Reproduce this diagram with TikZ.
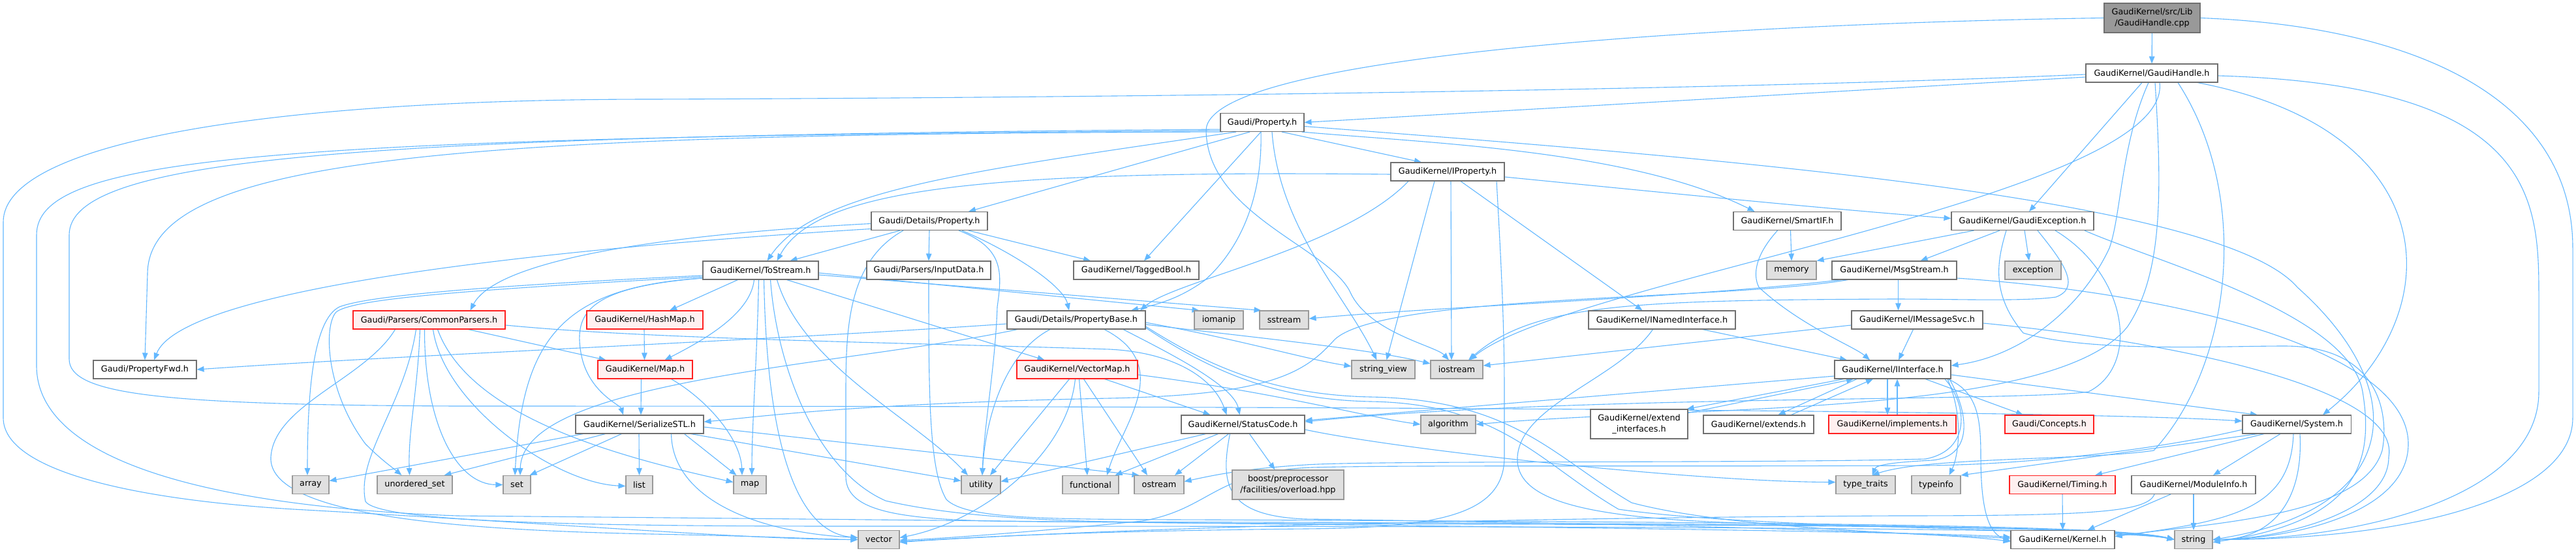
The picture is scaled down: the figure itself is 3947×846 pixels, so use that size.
\documentclass[tikz,border=0pt]{standalone}
\usepackage{fontspec}
\setmainfont{DejaVu Sans}
\usetikzlibrary{arrows.meta}
\pgfdeclarelayer{background}
\pgfsetlayers{background,main}
\definecolor{edgec}{HTML}{63B8FF}
\definecolor{nodeb}{HTML}{707070}
\definecolor{grayb}{HTML}{999999}
\definecolor{grayf}{HTML}{E0E0E0}
\definecolor{mainf}{HTML}{999999}
\definecolor{redb}{HTML}{FF2020}
\definecolor{redf}{HTML}{FFF0F0}
\begin{document}
\begin{tikzpicture}[x=1pt,y=1pt,
  base/.style={rectangle, line width=1.1pt, inner sep=1pt, minimum height=28pt, font=\fontsize{12.8}{16.5}\selectfont, align=center},
  wbox/.style={base, draw=nodeb, fill=white},
  gbox/.style={base, draw=grayb, fill=grayf},
  rbox/.style={base, draw=redb, fill=redf},
  mbox/.style={base, draw=nodeb, fill=mainf},
  e/.style={draw=edgec, line width=1.1pt, -{Triangle[length=11pt,width=8.5pt]}}]
\useasboundingbox (0,0) rectangle (3947,-846);
% ---------------- nodes ----------------
\node[mbox, minimum width=147pt, minimum height=45pt] (cpp) at (3297.5,-27.5) {GaudiKernel/src/Lib\\/GaudiHandle.cpp};
\node[wbox, minimum width=202pt] (gh) at (3297,-112) {GaudiKernel/GaudiHandle.h};
\node[wbox, minimum width=128pt] (prop) at (1934,-187.5) {Gaudi/Property.h};
\node[wbox, minimum width=174pt] (iprop) at (2218,-263) {GaudiKernel/IProperty.h};
\node[wbox, minimum width=178pt] (dprop) at (1424,-338.5) {Gaudi/Details/Property.h};
\node[wbox, minimum width=165pt] (smartif) at (2738.5,-338.5) {GaudiKernel/SmartIF.h};
\node[wbox, minimum width=218pt] (gexc) at (3099,-338.5) {GaudiKernel/GaudiException.h};
\node[wbox, minimum width=177pt] (tostream) at (1165.5,-414) {GaudiKernel/ToStream.h};
\node[wbox, minimum width=190pt] (inputdata) at (1423,-414) {Gaudi/Parsers/InputData.h};
\node[wbox, minimum width=192pt] (tagged) at (1741,-414) {GaudiKernel/TaggedBool.h};
\node[gbox, minimum width=76pt] (memory) at (2745,-414) {memory};
\node[wbox, minimum width=191pt] (msgstream) at (2902.5,-414) {GaudiKernel/MsgStream.h};
\node[gbox, minimum width=86pt] (exception) at (3115,-414) {exception};
\node[rbox, minimum width=233pt] (commonp) at (657.5,-490) {Gaudi/Parsers/CommonParsers.h};
\node[rbox, minimum width=178pt] (hashmap) at (988,-490) {GaudiKernel/HashMap.h};
\node[wbox, minimum width=212pt] (pbase) at (1649,-490) {Gaudi/Details/PropertyBase.h};
\node[gbox, minimum width=75pt] (iomanip) at (1867.5,-490) {iomanip};
\node[gbox, minimum width=75pt] (sstream) at (1967.5,-490) {sstream};
\node[wbox, minimum width=225pt] (inamed) at (2546.5,-490) {GaudiKernel/INamedInterface.h};
\node[wbox, minimum width=201pt] (imsg) at (2937.5,-490) {GaudiKernel/IMessageSvc.h};
\node[wbox, minimum width=158pt] (pfwd) at (222,-566) {Gaudi/PropertyFwd.h};
\node[rbox, minimum width=145pt] (maph) at (988.5,-566) {GaudiKernel/Map.h};
\node[rbox, minimum width=185pt] (vmap) at (1650.5,-566) {GaudiKernel/VectorMap.h};
\node[gbox, minimum width=97pt] (strview) at (2119.5,-566) {string\_view};
\node[gbox, minimum width=80pt] (iostream) at (2232,-566) {iostream};
\node[wbox, minimum width=178pt] (iinterface) at (2900,-566) {GaudiKernel/IInterface.h};
\node[wbox, minimum width=196pt] (sstl) at (980,-650) {GaudiKernel/SerializeSTL.h};
\node[wbox, minimum width=189pt] (statuscode) at (1904.5,-650) {GaudiKernel/StatusCode.h};
\node[gbox, minimum width=84pt] (algorithm) at (2219,-650) {algorithm};
\node[wbox, minimum width=149pt, minimum height=45pt] (extif) at (2511.5,-649.5) {GaudiKernel/extend\\\_interfaces.h};
\node[wbox, minimum width=169pt] (extends) at (2694.5,-650) {GaudiKernel/extends.h};
\node[rbox, minimum width=195pt] (implements) at (2899.5,-650) {GaudiKernel/implements.h};
\node[rbox, minimum width=136pt] (concepts) at (3140,-650) {Gaudi/Concepts.h};
\node[wbox, minimum width=166pt] (system) at (3519,-650) {GaudiKernel/System.h};
\node[gbox, minimum width=56pt] (array) at (476,-742.5) {array};
\node[gbox, minimum width=115pt] (uset) at (635.5,-742.5) {unordered\_set};
\node[gbox, minimum width=42pt] (set) at (792,-742.5) {set};
\node[gbox, minimum width=41pt] (list) at (979.5,-742.5) {list};
\node[gbox, minimum width=50pt] (map) at (1149,-742.5) {map};
\node[gbox, minimum width=60pt] (utility) at (1503,-742.5) {utility};
\node[gbox, minimum width=86pt] (functional) at (1671,-742.5) {functional};
\node[gbox, minimum width=76pt] (ostream) at (1776,-742.5) {ostream};
\node[gbox, minimum width=171pt, minimum height=45pt] (boost) at (1973.5,-742.5) {boost/preprocessor\\/facilities/overload.hpp};
\node[gbox, minimum width=91pt] (typetraits) at (2858.5,-742.5) {type\_traits};
\node[gbox, minimum width=75pt] (typeinfo) at (2966.5,-742.5) {typeinfo};
\node[rbox, minimum width=162pt] (timing) at (3160,-742.5) {GaudiKernel/Timing.h};
\node[wbox, minimum width=190pt] (modinfo) at (3361,-742.5) {GaudiKernel/ModuleInfo.h};
\node[gbox, minimum width=63pt] (vector) at (1346.5,-826.5) {vector};
\node[wbox, minimum width=159pt] (kernel) at (3160.5,-826.5) {GaudiKernel/Kernel.h};
\node[gbox, minimum width=58pt] (string) at (3361,-826.5) {string};
% ---------------- edges ----------------
\begin{pgfonlayer}{background}
\fill[white] (0,0) rectangle (3947,-846);
% GaudiHandle.cpp
\draw[e] (cpp) -- (gh);
\draw[e] (cpp.east) .. controls (3700,-40) and (3942,-150) .. (3942,-380) -- (3942,-640) .. controls (3942,-760) and (3700,-826) .. (string.east);
\draw[e] (cpp.west) .. controls (2700,-35) and (1848,-80) .. (1848,-200) .. controls (1850,-330) and (2040,-380) .. (2070,-450) .. controls (2100,-510) and (2200,-530) .. ([xshift=-12pt]iostream.north);
% GaudiHandle.h
\draw[e] ([yshift=-6pt]gh.west) -- (prop.east);
\draw[e] ([yshift=-2pt]gh.west) .. controls (2600,-140) and (1600,-150) .. (1000,-152) .. controls (400,-152) and (5,-220) .. (5,-340) -- (5,-640) .. controls (5,-720) and (200,-765) .. (450,-780) .. controls (900,-805) and (1150,-826) .. (vector.west);
\draw[e] ([xshift=-15pt]gh.south) -- ([xshift=10pt]gexc.north);
\draw[e] ([xshift=-5pt]gh.south) .. controls (3250,-220) and (3250,-330) .. (3232,-380) .. controls (3190,-470) and (3100,-545) .. ([yshift=6pt]iinterface.east);
\draw[e] ([xshift=5pt]gh.south) .. controls (3313,-300) and (3313,-420) .. (3260,-500) .. controls (3150,-640) and (2600,-620) .. (algorithm.east);
\draw[e] ([xshift=12pt]gh.south) .. controls (3330,-300) and (2400,-430) .. ([xshift=20pt]iostream.north);
\draw[e] ([xshift=40pt]gh.south) .. controls (3450,-300) and (3420,-560) .. (3300,-690) .. controls (3200,-705) and (2950,-700) .. ([xshift=10pt]typetraits.north);
\draw[e] ([xshift=70pt]gh.south) .. controls (3750,-200) and (3753,-480) .. ([xshift=40pt]system.north);
\draw[e] ([yshift=-4pt]gh.east) .. controls (3880,-130) and (3890,-300) .. (3890,-450) -- (3890,-600) .. controls (3890,-760) and (3620,-826) .. (string.east);
% Gaudi/Property.h
\draw[e] ([xshift=4pt]prop.south west) .. controls (700,-205) and (226,-240) .. (226,-420) -- (pfwd.north);
\draw[e] ([xshift=2pt,yshift=2pt]prop.south west) .. controls (400,-210) and (56,-240) .. (56,-360) -- (56,-560) .. controls (56,-700) and (300,-775) .. (700,-790) .. controls (1800,-800) and (2900,-812) .. ([yshift=4pt]kernel.west);
\draw[e] ([xshift=3pt,yshift=4pt]prop.south west) .. controls (550,-208) and (106,-240) .. (106,-360) -- (106,-550) .. controls (106,-605) and (250,-620) .. (700,-622) .. controls (2200,-622) and (3200,-630) .. ([yshift=5pt]system.west);
\draw[e] ([xshift=-19pt]prop.south) -- ([xshift=60pt]dprop.north);
\draw[e] ([xshift=-40pt]prop.south) .. controls (1500,-260) and (1250,-290) .. ([xshift=10pt]tostream.north);
\draw[e] ([xshift=-2pt]prop.south) -- ([xshift=12pt]tagged.north);
\draw[e] ([xshift=-2pt]prop.south) .. controls (1935,-330) and (1880,-400) .. (1845,-430) .. controls (1810,-455) and (1780,-465) .. ([xshift=84pt]pbase.north);
\draw[e] ([xshift=30pt]prop.south) -- ([xshift=-40pt]iprop.north);
\draw[e] ([xshift=-4pt]prop.south east) .. controls (2200,-220) and (2500,-230) .. ([xshift=-50pt]smartif.north);
\draw[e] ([xshift=15pt]prop.south) .. controls (1960,-350) and (2060,-450) .. ([xshift=-10pt]strview.north);
\draw[e] ([yshift=-6pt]prop.east) .. controls (2600,-240) and (3400,-300) .. (3520,-440) .. controls (3700,-600) and (3680,-780) .. (string.east);
% IProperty.h
\draw[e] ([yshift=-4pt]iprop.west) .. controls (1500,-260) and (1250,-290) .. ([xshift=25pt]tostream.north);
\draw[e] ([yshift=-8pt]iprop.east) .. controls (2600,-300) and (2800,-320) .. ([yshift=4pt]gexc.west);
\draw[e] ([xshift=20pt]iprop.south) -- ([xshift=-30pt]inamed.north);
\draw[e] ([xshift=-20pt]iprop.south) -- ([xshift=5pt]strview.north);
\draw[e] ([xshift=5pt]iprop.south) -- ([xshift=-8pt]iostream.north);
\draw[e] ([xshift=-60pt]iprop.south) .. controls (2060,-380) and (1800,-430) .. ([xshift=98pt]pbase.north);
\draw[e] ([xshift=75pt]iprop.south) .. controls (2300,-400) and (2305,-500) .. (2305,-600) -- (2305,-700) .. controls (2305,-790) and (2200,-808) .. (2000,-810) .. controls (1600,-814) and (1450,-826) .. ([yshift=-3pt]vector.east);
% SmartIF.h
\draw[e] ([xshift=5pt]smartif.south) -- (memory.north);
\draw[e] ([xshift=-15pt]smartif.south) .. controls (2690,-390) and (2685,-420) .. (2695,-440) .. controls (2760,-500) and (2840,-530) .. ([xshift=-35pt]iinterface.north);
% Gaudi/Details/Property.h
\draw[e] ([yshift=-4pt]dprop.west) .. controls (1000,-360) and (760,-400) .. ([xshift=63pt]commonp.north);
\draw[e] ([yshift=-12pt]dprop.west) .. controls (850,-380) and (280,-440) .. ([xshift=14pt]pfwd.north);
\draw[e] ([xshift=-45pt]dprop.south) -- ([xshift=45pt]tostream.north);
\draw[e] (dprop.south) -- (inputdata.north);
\draw[e] ([xshift=60pt]dprop.south) -- ([xshift=-70pt]tagged.north);
\draw[e] ([xshift=50pt]dprop.south) .. controls (1560,-390) and (1630,-440) .. ([xshift=-11pt]pbase.north);
\draw[e] ([xshift=45pt]dprop.south) .. controls (1540,-380) and (1535,-420) .. (1528,-470) .. controls (1525,-560) and (1508,-650) .. ([xshift=2pt]utility.north);
\draw[e] ([xshift=-40pt]dprop.south) .. controls (1300,-400) and (1296,-500) .. (1296,-600) -- (1296,-730) .. controls (1296,-790) and (1400,-798) .. (1600,-799) .. controls (2800,-802) and (3250,-806) .. (string.west);
% InputData.h
\draw[e] (inputdata.south) .. controls (1423,-600) and (1423,-720) .. (1450,-765) .. controls (1480,-795) and (1600,-795) .. (1800,-796) .. controls (2800,-800) and (3250,-805) .. (string.west);
% ToStream.h
\draw[e] ([xshift=-35pt]tostream.south) -- ([xshift=38pt]hashmap.north);
\draw[e] ([xshift=-10pt]tostream.south) .. controls (1150,-480) and (1080,-520) .. ([xshift=30pt]maph.north);
\draw[e] ([xshift=-3pt]tostream.south) .. controls (1160,-550) and (1152,-650) .. ([xshift=3pt]map.north);
\draw[e] ([xshift=40pt]tostream.south) -- ([xshift=-50pt]vmap.north);
\draw[e] ([yshift=-12pt]tostream.west) .. controls (900,-440) and (880,-480) .. (890,-540) .. controls (900,-600) and (950,-620) .. ([xshift=-25pt]sstl.north);
\draw[e] ([yshift=-8pt]tostream.west) .. controls (700,-440) and (560,-455) .. (520,-470) .. controls (480,-490) and (471,-600) .. ([xshift=-5pt]array.north);
\draw[e] ([yshift=-10pt]tostream.west) .. controls (700,-445) and (540,-458) .. (515,-478) .. controls (495,-500) and (500,-600) .. (560,-680) .. controls (585,-705) and (600,-715) .. ([xshift=-20pt]uset.north);
\draw[e] ([yshift=-12pt]tostream.west) .. controls (860,-440) and (800,-520) .. ([xshift=-3pt]set.north);
\draw[e] ([xshift=25pt]tostream.south) .. controls (1230,-560) and (1400,-640) .. ([xshift=-20pt]utility.north);
\draw[e] ([xshift=15pt]tostream.south) .. controls (1190,-560) and (1250,-720) .. (1357,-767) .. controls (1500,-800) and (1700,-801) .. (2000,-802) .. controls (2800,-804) and (3250,-807) .. (string.west);
\draw[e] ([xshift=5pt]tostream.south) .. controls (1175,-680) and (1220,-815) .. ([yshift=3pt]vector.west);
\draw[e] ([yshift=-4pt]tostream.east) -- ([xshift=-30pt]iomanip.north);
\draw[e] ([yshift=-7pt]tostream.east) -- ([xshift=-35pt]sstream.north);
% CommonParsers.h
\draw[e] ([xshift=60pt]commonp.south) -- ([xshift=-60pt]maph.north);
\draw[e] ([xshift=6pt]commonp.south) .. controls (680,-620) and (850,-740) .. ([yshift=-2pt]list.west);
\draw[e] ([xshift=-7pt]commonp.south) .. controls (650,-650) and (700,-742) .. (set.west);
\draw[e] ([xshift=-14pt]commonp.south) .. controls (640,-600) and (625,-660) .. ([xshift=-8pt]uset.north);
\draw[e] ([xshift=13pt]commonp.south) .. controls (720,-640) and (950,-700) .. ([yshift=4pt]map.west);
\draw[e] ([xshift=-52pt]commonp.south) .. controls (560,-580) and (420,-620) .. (415,-700) .. controls (410,-790) and (700,-812) .. (1000,-818) .. controls (1200,-822) and (1260,-826) .. (vector.west);
\draw[e] ([xshift=-20pt]commonp.south) .. controls (620,-620) and (545,-700) .. (560,-768) .. controls (580,-800) and (900,-806) .. (1300,-806) .. controls (2500,-806) and (3250,-808) .. (string.west);
\draw[e] ([yshift=-8pt]commonp.east) .. controls (1000,-520) and (1400,-525) .. (1700,-535) .. controls (1800,-540) and (1860,-580) .. ([xshift=-25pt]statuscode.north);
% HashMap.h, Map.h
\draw[e] ([xshift=-1pt]hashmap.south) -- ([xshift=-1pt]maph.north);
\draw[e] ([xshift=40pt]maph.south) .. controls (1080,-610) and (1135,-670) .. ([xshift=-12pt]map.north);
\draw[e] ([xshift=-6pt]maph.south) -- ([xshift=2pt]sstl.north);
% SerializeSTL.h
\draw[e] ([xshift=12pt]sstl.south west) -- ([yshift=6pt]array.east);
\draw[e] ([xshift=46pt]sstl.south west) -- ([xshift=45pt]uset.north);
\draw[e] ([xshift=71pt]sstl.south west) -- ([xshift=-2pt]set.north east);
\draw[e] ([xshift=-1pt]sstl.south) -- (list.north);
\draw[e] ([xshift=-30pt]sstl.south east) -- ([xshift=5pt]map.north west);
\draw[e] ([xshift=-50pt]sstl.south east) .. controls (1030,-760) and (1150,-815) .. ([yshift=3pt]vector.west);
\draw[e] ([xshift=-20pt]sstl.south east) -- ([yshift=6pt]utility.west);
\draw[e] ([yshift=-4pt]sstl.east) -- ([xshift=8pt]ostream.north west);
% VectorMap.h
\draw[e] ([xshift=-12pt]vmap.south) -- ([xshift=14pt]utility.north);
\draw[e] ([xshift=-3pt]vmap.south) .. controls (1635,-700) and (1500,-800) .. ([yshift=3pt]vector.east);
\draw[e] ([xshift=3pt]vmap.south) -- ([xshift=-5pt]functional.north);
\draw[e] ([xshift=10pt]vmap.south) -- ([xshift=-18pt]ostream.north);
\draw[e] ([xshift=42pt]vmap.south) -- ([xshift=-50pt]statuscode.north);
\draw[e] ([yshift=-8pt]vmap.east) .. controls (1950,-600) and (2100,-640) .. (algorithm.west);
% PropertyBase.h
\draw[e] ([yshift=-6pt]pbase.west) .. controls (1200,-520) and (600,-545) .. (pfwd.east);
\draw[e] ([xshift=-90pt]pbase.south) .. controls (1300,-560) and (800,-580) .. ([xshift=5pt]set.north);
\draw[e] ([xshift=-40pt]pbase.south) .. controls (1540,-540) and (1510,-640) .. ([xshift=2pt]utility.north);
\draw[e] ([xshift=43pt]pbase.south) .. controls (1800,-560) and (1720,-650) .. ([xshift=25pt]functional.north);
\draw[e] ([xshift=72pt]pbase.south) .. controls (1790,-540) and (1890,-590) .. ([xshift=-5pt]statuscode.north);
\draw[e] ([yshift=-4pt]pbase.east) .. controls (1900,-520) and (2000,-550) .. ([yshift=5pt]strview.west);
\draw[e] ([yshift=-7pt]pbase.east) .. controls (1950,-520) and (2100,-535) .. ([yshift=9pt]iostream.west);
\draw[e] ([yshift=-10pt]pbase.east) .. controls (1850,-560) and (1950,-605) .. (2100,-608) .. controls (2320,-612) and (2380,-700) .. (2500,-770) .. controls (2650,-810) and (2950,-818) .. ([yshift=2pt]kernel.west);
\draw[e] ([yshift=-12pt]pbase.east) .. controls (1850,-565) and (1950,-612) .. (2100,-615) .. controls (2300,-618) and (2360,-710) .. (2480,-780) .. controls (2700,-812) and (3250,-810) .. (string.west);
% StatusCode.h
\draw[e] ([xshift=-57pt]statuscode.south) -- ([yshift=5pt]utility.east);
\draw[e] ([xshift=-38pt]statuscode.south) -- ([xshift=-6pt]functional.north east);
\draw[e] ([xshift=-22pt]statuscode.south) -- ([xshift=24pt]ostream.north);
\draw[e] ([xshift=10pt]statuscode.south) -- ([xshift=-20pt]boost.north);
\draw[e] ([xshift=-20pt]statuscode.south) .. controls (1870,-740) and (1875,-790) .. (2000,-795) .. controls (2700,-805) and (3000,-818) .. ([yshift=-3pt]kernel.west);
\draw[e] ([yshift=-8pt]statuscode.east) .. controls (2150,-690) and (2600,-738) .. ([yshift=4pt]typetraits.west);
% INamedInterface.h
\draw[e] ([xshift=62pt]inamed.south) -- ([xshift=-70pt]iinterface.north);
\draw[e] ([xshift=-14pt]inamed.south) .. controls (2480,-580) and (2330,-620) .. (2325,-700) .. controls (2320,-785) and (2500,-800) .. (2800,-804) .. controls (3050,-808) and (3260,-812) .. (string.west);
% IMessageSvc.h
\draw[e] ([xshift=-6pt]imsg.south) -- ([xshift=9pt]iinterface.north);
\draw[e] ([yshift=-8pt]imsg.west) -- ([yshift=6pt]iostream.east);
\draw[e] ([yshift=-5pt]imsg.east) .. controls (3300,-520) and (3680,-590) .. (3660,-700) .. controls (3660,-790) and (3480,-826) .. (string.east);
% MsgStream.h
\draw[e] ([xshift=6pt]msgstream.south) -- ([xshift=-29pt]imsg.north);
\draw[e] ([xshift=15pt]msgstream.south west) .. controls (2600,-455) and (2200,-470) .. ([yshift=2pt]sstream.east);
\draw[e] ([xshift=25pt]msgstream.south west) .. controls (2650,-460) and (2120,-450) .. (2045,-520) .. controls (2000,-570) and (1950,-605) .. (1700,-610) .. controls (1300,-618) and (1150,-640) .. ([yshift=4pt]sstl.east);
\draw[e] ([yshift=-12pt]msgstream.east) .. controls (3350,-450) and (3690,-540) .. (3690,-680) .. controls (3690,-790) and (3500,-826) .. (string.east);
% GaudiException.h
\draw[e] ([xshift=35pt]gexc.south west) -- (memory.north east);
\draw[e] ([xshift=-35pt]gexc.south) -- ([xshift=40pt]msgstream.north);
\draw[e] ([xshift=3pt]gexc.south) -- ([xshift=-6pt]exception.north);
\draw[e] ([xshift=-25pt]gexc.south) .. controls (3060,-400) and (3050,-450) .. (3100,-510) .. controls (3200,-540) and (3400,-530) .. (3500,-530) .. controls (3650,-530) and (3660,-640) .. (3650,-690) .. controls (3620,-790) and (3400,-800) .. ([yshift=5pt]kernel.east);
\draw[e] ([xshift=23pt]gexc.south) .. controls (3160,-400) and (3190,-440) .. (3150,-455) .. controls (3100,-462) and (3000,-458) .. (2900,-458) .. controls (2500,-460) and (2350,-465) .. ([xshift=18pt]iostream.north);
\draw[e] ([xshift=50pt]gexc.south) .. controls (3260,-420) and (3280,-560) .. (3200,-600) .. controls (3100,-615) and (2400,-605) .. ([yshift=4pt]statuscode.east);
\draw[e] ([xshift=95pt]gexc.south) .. controls (3300,-400) and (3600,-480) .. (3620,-600) .. controls (3640,-720) and (3600,-800) .. ([yshift=-4pt]string.east);
% IInterface.h
\draw[e] ([xshift=50pt]iinterface.south) -- ([xshift=-40pt]concepts.north);
\draw[e] ([yshift=-8pt]iinterface.east) -- ([xshift=-60pt]system.north);
\draw[e] ([xshift=-75pt]iinterface.south) -- ([xshift=-2pt]extif.north east);
\draw[e] ([yshift=-6pt]extif.north east) -- ([xshift=-60pt]iinterface.south);
\draw[e] ([xshift=-55pt]iinterface.south) -- ([xshift=30pt]extends.north);
\draw[e] ([xshift=50pt]extends.north) -- ([xshift=-30pt]iinterface.south);
\draw[e] ([xshift=-8pt]iinterface.south) -- ([xshift=-7.5pt]implements.north);
\draw[e] ([xshift=7.5pt]implements.north) -- ([xshift=7pt]iinterface.south);
\draw[e] ([xshift=-5pt]iinterface.south east) .. controls (3030,-600) and (3035,-640) .. (3035,-700) .. controls (3035,-790) and (3050,-818) .. ([yshift=-2pt]kernel.west);
\draw[e] ([yshift=-10pt]iinterface.west) -- ([yshift=6pt]statuscode.east);
\draw[e] ([xshift=80pt]iinterface.south) .. controls (3015,-620) and (3020,-690) .. (2950,-703) .. controls (2700,-710) and (2100,-705) .. (2000,-712) .. controls (1900,-718) and (1850,-730) .. ([yshift=5pt]ostream.east);
\draw[e] ([xshift=84pt]iinterface.south) .. controls (3010,-640) and (3000,-700) .. ([xshift=20pt]typeinfo.north);
\draw[e] ([xshift=87pt]iinterface.south) .. controls (3020,-640) and (3020,-700) .. (2960,-705) .. controls (2900,-708) and (2875,-712) .. ([xshift=10pt]typetraits.north);
% System.h
\draw[e] ([xshift=-60pt]system.south) -- (typeinfo.north east);
\draw[e] ([xshift=-50pt]system.south) -- ([xshift=50pt]timing.north);
\draw[e] ([xshift=-25pt]system.south) -- ([xshift=30pt]modinfo.north);
\draw[e] ([xshift=-5pt]system.south) .. controls (3510,-780) and (3420,-798) .. ([yshift=5pt]kernel.east);
\draw[e] ([xshift=5pt]system.south) .. controls (3530,-780) and (3470,-826) .. (string.east);
\draw[e] ([yshift=-8pt]system.west) .. controls (3300,-690) and (3100,-712) .. (2950,-713) .. controls (2500,-715) and (2150,-712) .. (2010,-716) .. controls (1860,-722) and (1855,-780) .. (1750,-798) .. controls (1550,-818) and (1420,-826) .. ([yshift=-1pt]vector.east);
% ModuleInfo.h, Timing.h
\draw[e] ([xshift=-35pt]modinfo.south) -- ([xshift=38pt]kernel.north);
\draw[e] (modinfo.south) -- (string.north);
\draw[e] ([xshift=-60pt]modinfo.south) .. controls (3290,-785) and (3200,-790) .. (2900,-790) .. controls (2000,-795) and (1500,-822) .. ([yshift=-4pt]vector.east);
\draw[e] (timing.south) -- (kernel.north);
\end{pgfonlayer}
\end{tikzpicture}
\end{document}
